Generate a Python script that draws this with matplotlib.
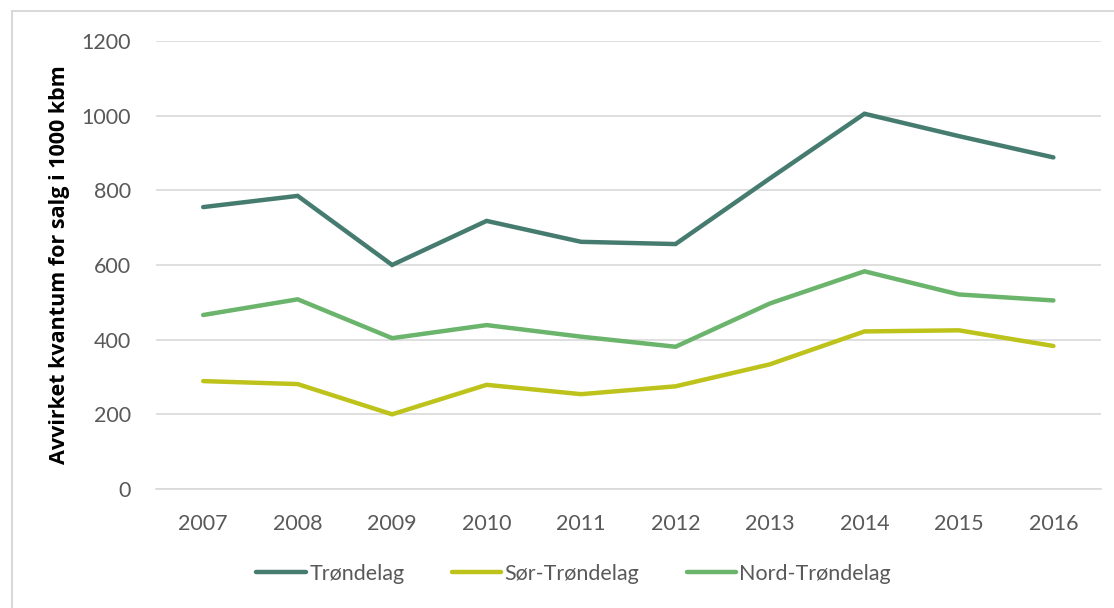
import matplotlib
matplotlib.use("Agg")
import matplotlib.pyplot as plt

years = [2007, 2008, 2009, 2010, 2011, 2012, 2013, 2014, 2015, 2016]
trondelag = [755, 785, 600, 718, 662, 656, 832, 1005, 945, 888]
sor_trondelag = [289, 281, 200, 279, 254, 275, 334, 422, 425, 383]
nord_trondelag = [466, 508, 404, 439, 408, 381, 497, 583, 521, 505]

series_names = ["Trøndelag", "Sør-Trøndelag", "Nord-Trøndelag"]
colors = ["#467C70", "#BDC31A", "#6AB46C"]

plt.rcParams["font.family"] = ["Lato", "DejaVu Sans"]

fig = plt.figure(figsize=(11.14, 6.08), dpi=100)
fig.patch.set_facecolor("white")

# light frame around the chart area
frame = plt.Rectangle((0.0105, -0.01), 1.1, 0.992, transform=fig.transFigure,
                      fill=False, edgecolor="#D9D9D9", linewidth=1.5)
fig.patches.append(frame)

ax = fig.add_axes([0.140, 0.1957, 0.848, 0.737])

x = list(range(len(years)))
for vals, name, c in zip([trondelag, sor_trondelag, nord_trondelag], series_names, colors):
    ax.plot(x, vals, color=c, linewidth=3.2, label=name, solid_joinstyle="miter",
            solid_capstyle="round")

ax.set_xlim(-0.5, len(years) - 0.5)
ax.set_ylim(0, 1200)
ax.set_yticks(range(0, 1201, 200))
ax.set_xticks(x)
ax.set_xticklabels([str(y) for y in years])

ax.grid(axis="y", color="#D9D9D9", linewidth=1.2)
ax.set_axisbelow(True)
for s in ["top", "right", "left"]:
    ax.spines[s].set_visible(False)
ax.spines["bottom"].set_color("#D9D9D9")
ax.spines["bottom"].set_linewidth(1.2)
ax.tick_params(axis="both", length=0, labelsize=15.5, labelcolor="#595959")
ax.tick_params(axis="y", pad=18)
ax.tick_params(axis="x", pad=18)

ax.set_ylabel("Avvirket kvantum for salg i 1000 kbm", fontsize=15.5,
              fontweight="bold", family=["Open Sans", "DejaVu Sans"],
              color="black", labelpad=8)

leg = fig.legend(loc="center", bbox_to_anchor=(0.515, 0.056), ncol=3, frameon=False,
                 fontsize=15.5, handlelength=2.3, handletextpad=0.15,
                 columnspacing=2.2)
for t in leg.get_texts():
    t.set_color("#595959")

fig.savefig("out.png", dpi=100, facecolor="white")
plt.close(fig)
